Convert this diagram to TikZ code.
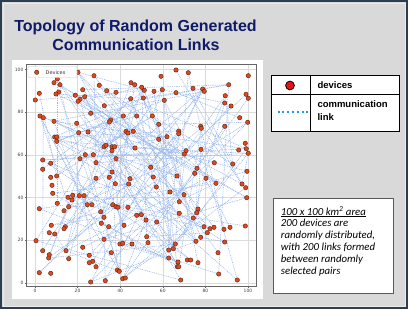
\documentclass[tikz,border=0pt]{standalone}
\usepackage{fontspec}
\setmainfont{Liberation Sans}
\newfontfamily\calfont{Carlito}
\newfontfamily\dvfont{DejaVu Sans}
\definecolor{frameblue}{RGB}{45,62,80}
\definecolor{bggray}{RGB}{217,217,217}
\definecolor{titleblue}{RGB}{15,26,105}
\definecolor{devfill}{RGB}{226,72,28}
\definecolor{devedge}{RGB}{80,35,20}
\definecolor{linkblue}{RGB}{150,182,236}
\definecolor{legblue}{RGB}{30,155,225}
\definecolor{legred}{RGB}{230,20,25}
\pgfdeclarelayer{bg}\pgfdeclarelayer{lk}\pgfsetlayers{bg,lk,main}
\begin{document}
\begin{tikzpicture}[x=1pt,y=-1pt,
  dev/.style={circle,inner sep=0pt,minimum size=4.4pt,fill=devfill,draw=devedge,line width=0.4pt},
  link/.style={draw=linkblue,line width=0.6pt,dash pattern=on 0.9pt off 0.9pt},
  gridln/.style={draw=black!14,line width=0.5pt},
  ticklab/.style={font=\dvfont\fontsize{4.5}{5}\selectfont,text=black!75,inner sep=0.6pt},
  titletext/.style={font=\bfseries\fontsize{16}{19}\selectfont,text=titleblue,anchor=base,inner sep=0pt},
  legtext/.style={font=\bfseries\fontsize{9.5}{11}\selectfont,anchor=base west,inner sep=0pt},
  notetext/.style={font=\calfont\itshape\fontsize{10.8}{11.8}\selectfont,anchor=base west,inner sep=0pt}]
\useasboundingbox (0,0) rectangle (408,309);
\begin{pgfonlayer}{bg}
  \fill[bggray] (0,0) rectangle (408,309);
  \draw[frameblue,line width=2.4pt] (1.2,1.2) rectangle (406.8,307.8);
  \draw[white!85!gray,line width=0.7pt] (3,3) rectangle (405,306);
  % figure panel
  \fill[white] (12,59.5) rectangle (262.7,299);
  % grid
  \foreach \gx in {35,77.6,120.2,162.8,205.4,248}
    \draw[gridln] (\gx,64.5) -- (\gx,286);
  \foreach \gy in {283,240.3,197.6,154.9,112.2,69.5}
    \draw[gridln] (26.7,\gy) -- (256.5,\gy);
\end{pgfonlayer}
% title
\node[titletext] (t1) at (135.5,31) {Topology of Random Generated};
\node[titletext] (t2) at (136,50) {Communication Links};
% devices
\foreach \x/\y [count=\i] in {
78/72.3,94/75.7,57.3/79,54/82.7,60/84.7,39.3/93.3,35.3/100,58.7/92,56/94,82.7/89.7,
75.3/95.3,84.7/96.7,80/99.3,78/101.3,99.3/85.3,106.7/90.7,116/92.3,104.3/105.7,90.7/113.3,40/116,
43.3/117.7,54/121.3,76.7/123.3,78.7/132.7,88/132,110.7/120,109.3/122,123.3/116,130.7/98.7,131/82.7,
134.7/84.7,136.7/116,54.7/137,56.7/137,56.7/141.3,126/131.3,128/133,133.3/131.3,104/146.7,106/145.3,
112/146.7,114.7/146.7,112/150.7,116/158.7,135/148,42.7/160,85.3/154.7,93.3/154.7,80/158.7,96/162.7,
50.7/163.3,42.7/169.3,50.7/177.3,56.7/176,96/178.3,109.3/177.3,112/172,130/178.7,176/70,188.3/72.7,
161/76.3,248.3/75.7,228.7/84.7,141.7/87.3,144.3/90.3,154/91.3,162.3/89.7,176/92.7,193/88.3,202.7/89,
204.3/91.3,225.3/95.7,246/94.3,248.3/98.3,224.7/103,231/106,143.3/98,164.3/100.3,152.3/116,239.7/117.7,
247.7/122.3,158.7/124.3,200.7/126.3,201.3/128.3,224.7/126.3,178.7/131,178.7/133.7,158.7/139.3,167/136.7,186/150.7,
184.3/154,201/149.3,245.3/143.3,246.3/148.7,238.7/150,248.3/153.3,214.3/162.7,232.7/164,150.7/167.3,197/168.3,
194.7/173.3,247/171.3,153.3/177,177/176,206/178.3,216/183.3,242/184,245.7/187.7,156.3/187,170/192,
184/194.7,246.7/197.7,179.3/201.7,198/209,52/185.3,52.7/193.3,115.3/183.7,128.7/184,72.7/195.3,68/197.3,
79.3/195.7,84/195.7,57.3/203.3,72/200,68.7/206.7,64/210.7,87.3/204.7,92/204.7,39.3/208.7,112.7/204.7,
116/206.7,118/207.3,100.7/211.7,128/207.3,104/217.3,101.3/223.3,108.7/226.7,136.7/215.3,124/225.3,51.3/225.3,
65.3/226.7,64/228.7,49.3/232.7,54.7/234,36/240.7,104/239.3,120/244,122.7/243.3,132/244,82.7/247.3,
42.7/250.7,66/250.7,111.3/252.7,49.3/254.7,89.3/255.3,48.7/258,68.7/258.7,92.7/261.3,89.3/262.7,96/266.7,
117.3/270,119.3/271.3,39.3/272.7,50.7/273.3,122.7/278.7,125.3/278,105.3/280.7,90.7/282,196.7/212.7,179.3/213.3,
141.3/214.7,146/220,156.7/222,193.3/218,204/226.7,207.3/232.7,210/228.7,214/227.3,224/229.3,230/227.3,
245.3/226,146.7/236.7,200.7/237.3,196/241.3,148/242.7,224.7/242,175.3/244,173.3/248.7,168.7/250,218/252.7,
168.7/258,187.3/260,190.7/260,178/262,198/262.7,177.3/266.7,178.7/266.7,218.7/274,180.7/280,237.3/280}
  \node[dev] (d\i) at (\x,\y) {};
% links between randomly selected pairs
\begin{pgfonlayer}{lk}
  \pgfmathsetseed{4217}
  \foreach \k in {1,...,200}{
    \pgfmathtruncatemacro{\ia}{random(1,200)}
    \pgfmathtruncatemacro{\ib}{random(1,200)}
    \draw[link] (d\ia.center) -- (d\ib.center);
  }
\end{pgfonlayer}
% axes frame, ticks, labels
\draw[black!60,line width=0.6pt] (26.7,64.5) rectangle (256.5,286);
\foreach \gx/\lab in {35/0,77.6/20,120.2/40,162.8/60,205.4/80,248/100}{
  \draw[black!60,line width=0.5pt] (\gx,286) -- (\gx,288);
  \node[ticklab,anchor=north] (xl\lab) at (\gx,288.6) {\lab};
}
\foreach \gy/\lab in {283/0,240.3/20,197.6/40,154.9/60,112.2/80,69.5/100}{
  \draw[black!60,line width=0.5pt] (26.7,\gy) -- (24.7,\gy);
  \node[ticklab,anchor=east] (yl\lab) at (24.2,\gy) {\lab};
}
% in-plot legend
\node[draw=black!20,fill=white,fill opacity=0.9,draw opacity=1,rounded corners=1pt,minimum width=49pt,minimum height=11pt,inner sep=0pt] (pleg) at (52.5,72) {};
\node[dev] (plegdev) at (36.7,72.3) {};
\node[font=\dvfont\fontsize{5}{6}\selectfont,text=black!80,anchor=west,inner sep=0pt] (plegtxt) at (45.5,72.3) {Devices};
% right legend table
\draw[black,line width=0.8pt,fill=white] (271.7,75) rectangle (399,131);
\draw[black,line width=0.8pt] (310,75) -- (310,131);
\draw[black,line width=0.8pt] (271.7,94.3) -- (399,94.3);
\node[circle,inner sep=0pt,minimum size=8.8pt,fill=legred,draw=black,line width=0.8pt] (legdev) at (290,85.5) {};
\coordinate (lkA) at (277.5,112.3);
\coordinate (lkB) at (307.5,112.3);
\draw[legblue,line width=1.8pt,dash pattern=on 2pt off 2.8pt] (lkA) -- (lkB);
\node[legtext] (ldev) at (317.3,88.7) {devices};
\node[legtext] (lcom) at (317.3,107.7) {communication};
\node[legtext] (llink) at (317.3,120.2) {link};
% note box
\draw[black!65,line width=0.8pt,fill=white] (273,198) rectangle (393,293);
\foreach \t [count=\j] in {{\underline{100 x 100 km\textsuperscript{2} area}},{200 devices are},{randomly distributed,},{with 200 links formed},{between randomly},{selected pairs}}
  \node[notetext] (n\j) at (280.7,{215+11.8*(\j-1)}) {\t};
\end{tikzpicture}
\end{document}
